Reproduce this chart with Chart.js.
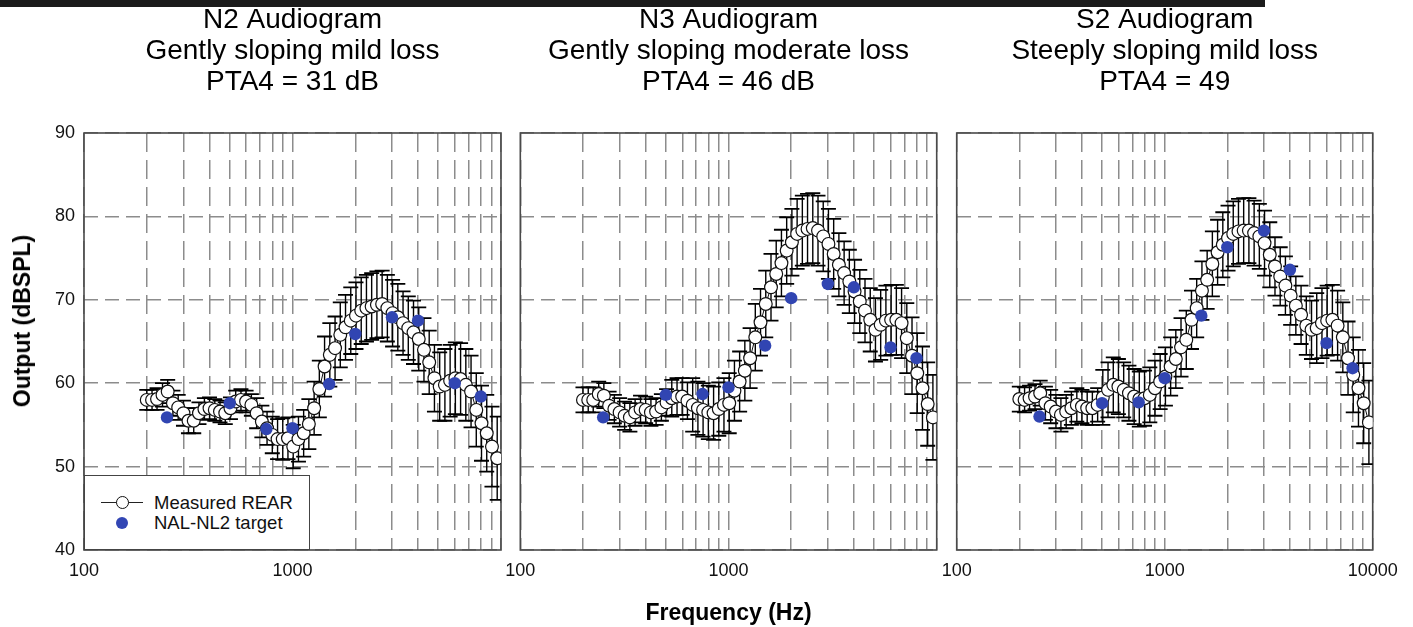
<!DOCTYPE html>
<html>
<head>
<meta charset="utf-8">
<script src="https://cdn.jsdelivr.net/npm/chart.js@4.4.1/dist/chart.umd.min.js"></script>
<style>
  html, body { margin: 0; padding: 0; background: #fff; width: 1413px; height: 627px; overflow: hidden; }
  .topbar { position: absolute; left: 0; top: 0; width: 1265px; height: 7px; background: #1b1b1b; }
  .panel { position: absolute; top: 0; height: 627px; }
  .ytitle { position: absolute; left: 22px; top: 321px; transform: translate(-50%, -50%) rotate(-90deg);
            font-family: "Liberation Sans", Arial, sans-serif; font-weight: bold; font-size: 23px; color: #000;
            white-space: nowrap; line-height: 26px; }
  .legend { position: absolute; box-sizing: border-box; background: #fff; border: 1.5px solid #444;
            font-family: "Liberation Sans", Arial, sans-serif; font-size: 18.5px; color: #111; }
  .legend .ln { position: absolute; height: 1px; background: #222; }
  .legend .mk { position: absolute; box-sizing: border-box; border-radius: 50%; }
  .legend .tx { position: absolute; line-height: 20px; white-space: nowrap; }
</style>
</head>
<body>
<div class="topbar"></div>
<div class="panel" style="left:0px;width:512px"><canvas id="c1" width="512" height="627"></canvas></div>
<div class="panel" style="left:490px;width:460px"><canvas id="c2" width="460" height="627"></canvas></div>
<div class="panel" style="left:926px;width:487px"><canvas id="c3" width="487" height="627"></canvas></div>
<div class="ytitle" id="ytitle"></div>
<div class="legend" style="left:84px;top:475px;width:226px;height:75px">
  <div class="ln" style="left:16px;top:26px;width:42px"></div>
  <div class="mk" style="left:30.5px;top:20px;width:13px;height:13px;background:#fff;border:1.2px solid #111"></div>
  <div class="tx" id="lg0" style="left:69px;top:16.5px"></div>
  <div class="mk" style="left:31px;top:40.5px;width:12px;height:12px;background:#3246b4"></div>
  <div class="tx" id="lg1" style="left:69px;top:36.5px"></div>
</div>
<script>
// ---------- data ----------
const freqs = [200, 212, 224, 238, 252, 267, 283, 300, 317, 336, 356, 378, 400, 424, 449, 476, 504, 534, 566, 599,
  635, 673, 713, 755, 800, 848, 898, 951, 1008, 1068, 1131, 1198, 1270, 1345, 1425, 1510, 1600, 1695, 1796, 1903,
  2016, 2136, 2263, 2397, 2540, 2691, 2851, 3020, 3200, 3390, 3592, 3805, 4032, 4271, 4525, 4795, 5080, 5382, 5702, 6041,
  6400, 6781, 7184, 7611, 8063, 8543, 9051, 9589];

const n2Rear = [58.0, 58.0, 58.1, 58.6, 59.0, 57.6, 57.1, 56.4, 55.5, 55.5, 56.4, 56.9, 57.0, 56.8, 56.6, 56.4, 57.0, 57.8, 58.0, 57.8,
  57.4, 56.4, 55.4, 54.6, 53.8, 53.3, 53.3, 53.4, 52.4, 53.3, 54.0, 55.1, 57.0, 59.3, 62.0, 63.4, 64.2, 65.8, 66.7, 67.5,
  68.1, 68.7, 69.0, 69.2, 69.4, 69.5, 69.0, 68.4, 67.9, 67.2, 66.6, 66.1, 65.3, 64.0, 62.5, 60.6, 59.6, 59.8, 60.3, 60.6,
  60.5, 59.8, 59.0, 56.8, 55.2, 54.0, 52.4, 51.0];
const n2Sd = [1.2, 1.2, 1.3, 1.4, 1.4, 1.5, 1.5, 1.5, 1.5, 1.5, 1.3, 1.3, 1.3, 1.3, 1.3, 1.3, 1.3, 1.3, 1.3, 1.3,
  1.3, 1.8, 1.9, 2.0, 2.2, 2.4, 2.5, 2.5, 2.6, 2.7, 2.8, 3.0, 3.2, 3.4, 3.6, 3.8, 3.8, 3.9, 3.9, 4.0,
  4.0, 4.0, 4.0, 4.0, 4.0, 4.0, 4.0, 4.0, 4.0, 3.8, 3.8, 3.8, 3.8, 3.8, 3.8, 4.0, 4.1, 4.3, 4.3, 4.3,
  4.3, 4.3, 4.3, 4.4, 4.5, 4.6, 4.8, 5.0];

const n3Rear = [58.0, 58.0, 58.0, 58.7, 58.5, 57.3, 56.9, 56.5, 56.1, 55.9, 56.5, 56.9, 56.8, 56.5, 56.6, 57.1, 57.7, 58.2, 58.4, 58.4,
  57.9, 57.4, 57.0, 56.8, 56.5, 56.4, 56.9, 57.4, 57.6, 59.1, 60.2, 61.5, 63.0, 65.5, 67.3, 69.5, 71.5, 73.1, 74.4, 75.9,
  76.9, 77.9, 78.3, 78.5, 78.6, 78.3, 77.6, 76.7, 75.5, 74.2, 73.2, 72.2, 71.0, 69.8, 68.7, 67.6, 66.4, 67.0, 67.5, 67.6,
  67.6, 67.2, 65.4, 63.3, 61.2, 59.4, 57.5, 55.9];
const n3Sd = [1.5, 1.5, 1.5, 1.5, 1.5, 1.7, 1.7, 1.7, 1.7, 1.7, 1.6, 1.6, 1.6, 1.6, 1.6, 1.6, 1.6, 2.2, 2.2, 2.2,
  2.2, 3.2, 3.2, 3.2, 3.2, 3.2, 3.2, 3.2, 3.6, 3.6, 3.6, 3.6, 3.6, 4.0, 4.0, 4.0, 4.0, 4.0, 4.0, 4.0,
  4.0, 4.2, 4.2, 4.2, 4.2, 4.2, 4.2, 4.2, 4.2, 3.8, 3.8, 3.8, 3.8, 3.8, 3.8, 3.8, 3.8, 4.2, 4.2, 4.2,
  4.2, 4.2, 4.2, 4.6, 4.8, 5.0, 5.0, 5.1];

const s2Rear = [58.1, 58.0, 58.2, 58.4, 58.8, 57.6, 57.2, 56.6, 56.2, 56.6, 57.0, 57.4, 57.2, 57.0, 57.0, 57.4, 58.3, 59.2, 59.8, 59.6,
  59.2, 58.8, 58.4, 58.1, 58.2, 58.6, 59.4, 60.2, 60.8, 62.0, 62.9, 64.3, 65.2, 67.6, 69.0, 71.1, 72.4, 74.3, 75.7, 76.6,
  77.4, 77.9, 78.2, 78.3, 78.3, 78.0, 77.6, 76.8, 75.4, 74.0, 72.8, 71.7, 70.5, 69.3, 68.2, 66.9, 66.4, 66.6, 67.2, 67.5,
  67.6, 66.9, 65.5, 63.0, 61.0, 59.4, 57.6, 55.3];
const s2Sd = [1.5, 1.5, 1.5, 1.5, 1.5, 2.0, 2.0, 2.0, 2.0, 2.0, 2.0, 2.0, 2.0, 2.0, 2.0, 2.0, 3.3, 3.3, 3.3, 3.3,
  3.3, 3.3, 3.3, 3.3, 3.3, 3.3, 3.3, 3.3, 3.5, 3.5, 3.5, 3.5, 3.5, 3.5, 3.5, 3.5, 3.5, 3.9, 3.9, 3.9,
  3.9, 3.9, 3.9, 3.9, 3.9, 3.9, 3.9, 3.9, 3.9, 3.5, 3.5, 3.5, 3.5, 3.5, 3.5, 3.5, 3.5, 4.2, 4.2, 4.2,
  4.2, 4.2, 4.2, 4.4, 4.5, 4.6, 4.8, 5.0];

const targetFreqs = [250, 500, 750, 1000, 1500, 2000, 3000, 4000, 6000, 8000];
const n2Target = [55.9, 57.6, 54.5, 54.6, 59.9, 65.9, 67.9, 67.5, 60.0, 58.4];
const n3Target = [55.9, 58.6, 58.7, 59.5, 64.5, 70.2, 71.9, 71.5, 64.3, 63.0];
const s2Target = [56.0, 57.6, 57.7, 60.6, 68.1, 76.3, 78.3, 73.6, 64.8, 61.8];

const gridFreqs = [100, 200, 300, 400, 500, 600, 700, 800, 900, 1000, 2000, 3000, 4000, 5000, 6000, 7000, 8000, 9000, 10000];
const yTicks = [40, 50, 60, 70, 80, 90];

const panelTitles = [
  ['N2 Audiogram', 'Gently sloping mild loss', 'PTA4 = 31 dB'],
  ['N3 Audiogram', 'Gently sloping moderate loss', 'PTA4 = 46 dB'],
  ['S2 Audiogram', 'Steeply sloping mild loss', 'PTA4 = 49']
];
const seriesNames = ['Measured REAR', 'NAL-NL2 target'];
const yAxisTitle = 'Output (dBSPL)';
const xAxisTitle = 'Frequency (Hz)';

document.getElementById('ytitle').textContent = yAxisTitle;
document.getElementById('lg0').textContent = seriesNames[0];
document.getElementById('lg1').textContent = seriesNames[1];

// ---------- plugins ----------
const FONT = '"Liberation Sans", Arial, Helvetica, sans-serif';

const framePlugin = {
  id: 'frame',
  beforeDatasetsDraw(chart) {
    const a = chart.chartArea, ctx = chart.ctx;
    ctx.save();
    ctx.strokeStyle = '#4a4a4a';
    ctx.lineWidth = 1.6;
    ctx.setLineDash([]);
    ctx.strokeRect(a.left, a.top, a.right - a.left, a.bottom - a.top);
    ctx.restore();
  }
};

const errorBarPlugin = {
  id: 'errorBars',
  beforeDatasetsDraw(chart) {
    const ds = chart.data.datasets.find(d => d.errors);
    if (!ds) return;
    const xs = chart.scales.x, ys = chart.scales.y, ctx = chart.ctx, a = chart.chartArea;
    ctx.save();
    ctx.beginPath();
    ctx.rect(a.left, a.top, a.right - a.left, a.bottom - a.top);
    ctx.clip();
    ctx.strokeStyle = '#000';
    ctx.setLineDash([]);
    ds.data.forEach((p, i) => {
      const e = ds.errors[i];
      const px = xs.getPixelForValue(p.x);
      const yt = ys.getPixelForValue(p.y + e);
      const yb = ys.getPixelForValue(p.y - e);
      ctx.lineWidth = 1.4;
      ctx.beginPath();
      ctx.moveTo(px, yt); ctx.lineTo(px, yb);
      ctx.stroke();
      ctx.lineWidth = 1.8;
      ctx.beginPath();
      ctx.moveTo(px - 7.5, yt); ctx.lineTo(px + 7.5, yt);
      ctx.moveTo(px - 7.5, yb); ctx.lineTo(px + 7.5, yb);
      ctx.stroke();
    });
    ctx.restore();
  }
};

// ---------- charts ----------
function makePanel(canvasId, idx, rear, sd, target, opts) {
  const labelSet = opts.xLabels;
  const cfg = {
    type: 'line',
    data: {
      datasets: [
        {
          label: seriesNames[1],
          data: targetFreqs.map((f, i) => ({ x: f, y: target[i] })),
          showLine: false,
          pointRadius: 6.2,
          pointBackgroundColor: '#3145b2',
          pointBorderColor: '#3145b2',
          pointBorderWidth: 0,
          order: 0
        },
        {
          label: seriesNames[0],
          data: freqs.map((f, i) => ({ x: f, y: rear[i] })),
          errors: sd,
          showLine: true,
          borderColor: '#111',
          borderWidth: 1,
          pointRadius: 6.4,
          pointBackgroundColor: '#fff',
          pointBorderColor: '#111',
          pointBorderWidth: 1.2,
          tension: 0,
          order: 1
        }
      ]
    },
    options: {
      responsive: false,
      animation: false,
      events: [],
      layout: { padding: opts.padding },
      plugins: {
        legend: { display: false },
        tooltip: { enabled: false },
        title: {
          display: true,
          text: panelTitles[idx],
          fullSize: false,
          color: '#000',
          font: { family: FONT, size: 28, weight: 'normal', lineHeight: '31px' },
          padding: { top: 5, bottom: 35 }
        }
      },
      scales: {
        x: {
          type: 'logarithmic',
          min: 100,
          max: 10000,
          afterBuildTicks: (scale) => { scale.ticks = gridFreqs.map(v => ({ value: v })); },
          afterFit: (scale) => { scale.height = 77; },
          grid: { color: '#8c8c8c', lineWidth: 1.5, drawTicks: false },
          border: { display: false, dash: [19, 8] },
          ticks: {
            autoSkip: false,
            maxRotation: 0,
            padding: 10,
            color: '#111',
            font: { family: FONT, size: 18 },
            callback: (v) => labelSet.includes(v) ? String(v) : ''
          },
          title: {
            display: !!opts.xTitle,
            text: xAxisTitle,
            color: '#000',
            font: { family: FONT, size: 23, weight: 'bold' },
            padding: { top: 0, bottom: 0 }
          }
        },
        y: {
          type: 'linear',
          min: 40,
          max: 90,
          afterBuildTicks: (scale) => { scale.ticks = yTicks.map(v => ({ value: v })); },
          afterFit: (scale) => { scale.width = opts.yWidth; },
          grid: { color: '#8c8c8c', lineWidth: 1.5, drawTicks: false },
          border: { display: false, dash: [14, 7] },
          ticks: {
            display: !!opts.yLabels,
            padding: 9,
            color: '#111',
            font: { family: FONT, size: 18 }
          }
        }
      }
    },
    plugins: [framePlugin, errorBarPlugin]
  };
  return new Chart(document.getElementById(canvasId), cfg);
}

makePanel('c1', 0, n2Rear, n2Sd, n2Target, {
  padding: { left: 0, right: 11, top: 0, bottom: 0 }, yWidth: 84, yLabels: true,
  xLabels: [100, 1000], xTitle: false
});
makePanel('c2', 1, n3Rear, n3Sd, n3Target, {
  padding: { left: 0, right: 13.3, top: 0, bottom: 0 }, yWidth: 30.3, yLabels: false,
  xLabels: [100, 1000], xTitle: true
});
makePanel('c3', 2, s2Rear, s2Sd, s2Target, {
  padding: { left: 0, right: 40.3, top: 0, bottom: 0 }, yWidth: 30.7, yLabels: false,
  xLabels: [100, 1000, 10000], xTitle: false
});
</script>
</body>
</html>
